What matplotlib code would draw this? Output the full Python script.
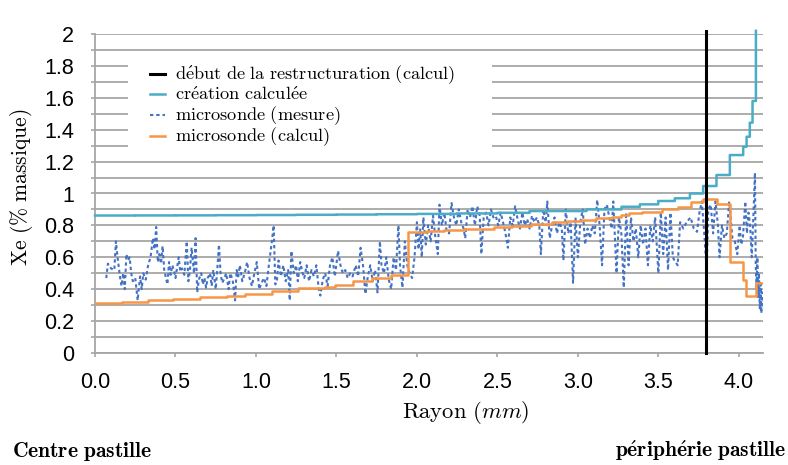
import numpy as np
import matplotlib
matplotlib.use("Agg")
import matplotlib.pyplot as plt
from matplotlib.patches import Rectangle
from matplotlib.ticker import MultipleLocator, FormatStrFormatter

plt.rcParams["mathtext.fontset"] = "cm"

# --------------------------------------------------
# DATA
# --------------------------------------------------
restructuration_x = 3.795

# création calculée (step, value holds until next x)
creation_x = [0.0, 0.25, 0.5, 0.75, 1.0, 1.25, 1.5, 1.75, 2.0, 2.25, 2.5, 2.70, 3.054,
              3.271, 3.385, 3.499, 3.602, 3.696, 3.778, 3.861, 3.944, 4.027, 4.048,
              4.068, 4.085, 4.106]
creation_y = [0.862, 0.8625, 0.863, 0.864, 0.865, 0.8665, 0.868, 0.870, 0.872, 0.875,
              0.879, 0.89, 0.90, 0.917, 0.932, 0.953, 0.97, 1.00, 1.047, 1.116, 1.241,
              1.293, 1.356, 1.444, 1.58, 2.02]

# microsonde (calcul) (step)
calcul_x = [0.0, 0.166, 0.331, 0.487, 0.652, 0.818, 0.932, 1.097, 1.263, 1.428, 1.491,
            1.605, 1.718, 1.842, 1.946, 2.06, 2.17, 2.29, 2.48, 2.59, 2.71, 2.84,
            2.93, 3.02, 3.11, 3.21, 3.27, 3.32, 3.40, 3.52, 3.62, 3.70, 3.78, 3.865,
            3.944, 4.026, 4.047, 4.104, 4.15]
calcul_y = [0.316, 0.322, 0.332, 0.340, 0.353, 0.36, 0.368, 0.39, 0.405, 0.415, 0.425,
            0.45, 0.47, 0.49, 0.757, 0.765, 0.772, 0.780, 0.788, 0.798, 0.81, 0.82,
            0.828, 0.836, 0.844, 0.853, 0.865, 0.876, 0.886, 0.90, 0.917, 0.944, 0.965, 0.932,
            0.573, 0.457, 0.358, 0.44, 0.44]

# microsonde (mesure)
mesure_x = [
    0.07, 0.08, 0.10, 0.12, 0.13, 0.14, 0.155, 0.165, 0.175, 0.185, 0.195, 0.205, 0.215,
    0.225, 0.235, 0.25, 0.265, 0.28, 0.29, 0.30, 0.315, 0.33, 0.345, 0.36, 0.37, 0.38,
    0.39, 0.40, 0.41, 0.42, 0.43, 0.45, 0.46, 0.47, 0.48, 0.49, 0.50, 0.52, 0.53, 0.54,
    0.555, 0.57, 0.58, 0.59, 0.60, 0.615, 0.625, 0.635, 0.645, 0.66, 0.67, 0.68, 0.69,
    0.70, 0.715, 0.725, 0.735, 0.75, 0.76, 0.77, 0.78, 0.79, 0.80, 0.815, 0.83,
    0.84, 0.855, 0.87, 0.88, 0.89, 0.90, 0.915, 0.93, 0.945, 0.96, 0.975, 0.99, 1.005,
    1.02, 1.035, 1.05, 1.065, 1.08, 1.09, 1.10, 1.11, 1.12, 1.13, 1.14, 1.155, 1.17,
    1.185, 1.20, 1.21, 1.22, 1.235, 1.25, 1.26, 1.275, 1.29, 1.30, 1.315, 1.33, 1.345,
    1.36, 1.375, 1.39, 1.40, 1.415, 1.43, 1.445, 1.46, 1.475, 1.49, 1.51, 1.525, 1.54,
    1.555, 1.57, 1.585, 1.60, 1.62, 1.635, 1.65, 1.665,
    1.68, 1.695, 1.71, 1.725, 1.74, 1.755, 1.77, 1.78, 1.795, 1.81, 1.825, 1.84, 1.855,
    1.87, 1.885, 1.895, 1.91, 1.925, 1.94, 1.955, 1.97, 1.985, 2.00, 2.01, 2.02, 2.03,
    2.04, 2.055, 2.07, 2.085, 2.10, 2.115, 2.13, 2.14, 2.155, 2.17, 2.185, 2.20, 2.215,
    2.23, 2.245, 2.26, 2.275, 2.29, 2.30, 2.315, 2.33, 2.345, 2.36, 2.375, 2.39, 2.40,
    2.415, 2.43, 2.445, 2.46, 2.475,
    2.49, 2.505, 2.52, 2.535, 2.55, 2.565, 2.58, 2.595, 2.61, 2.625, 2.64, 2.655, 2.67,
    2.685, 2.70, 2.715, 2.73, 2.745, 2.76, 2.77, 2.785, 2.80, 2.81, 2.825, 2.84, 2.855,
    2.87, 2.885, 2.90, 2.91, 2.925, 2.94, 2.955, 2.97, 2.985, 3.00, 3.015, 3.03, 3.045,
    3.06, 3.075, 3.09, 3.105, 3.12, 3.135, 3.15, 3.165, 3.18, 3.195, 3.21, 3.22, 3.24,
    3.255, 3.27, 3.285, 3.30, 3.315,
    3.33, 3.345, 3.36, 3.375, 3.39, 3.405, 3.42, 3.435, 3.45, 3.465, 3.48, 3.50, 3.515,
    3.53, 3.545, 3.56, 3.575, 3.59, 3.60, 3.62, 3.635, 3.655, 3.675, 3.70, 3.72, 3.74,
    3.755, 3.77, 3.785, 3.80, 3.81, 3.825, 3.84, 3.855, 3.87, 3.88, 3.895, 3.91, 3.925,
    3.94, 3.96, 3.975, 3.99, 4.005, 4.015, 4.025, 4.04, 4.05, 4.06, 4.07, 4.08, 4.09,
    4.10, 4.105, 4.11, 4.115, 4.12, 4.125, 4.13, 4.135, 4.14, 4.145, 4.15,
]
mesure_y = [
    0.47, 0.56, 0.53, 0.52, 0.70, 0.60, 0.48, 0.42, 0.50, 0.40, 0.62, 0.58, 0.60,
    0.50, 0.45, 0.47, 0.33, 0.48, 0.40, 0.50, 0.46, 0.55, 0.60, 0.72, 0.65, 0.79,
    0.57, 0.62, 0.56, 0.67, 0.52, 0.43, 0.57, 0.49, 0.55, 0.52, 0.47, 0.60, 0.51, 0.53,
    0.49, 0.70, 0.45, 0.52, 0.66, 0.50, 0.72, 0.38, 0.46, 0.50, 0.43, 0.47, 0.41,
    0.47, 0.50, 0.42, 0.52, 0.40, 0.53, 0.68, 0.50, 0.44, 0.46, 0.50, 0.40,
    0.50, 0.46, 0.33, 0.52, 0.48, 0.55, 0.45, 0.50, 0.57, 0.47, 0.42, 0.50, 0.57,
    0.40, 0.44, 0.47, 0.42, 0.55, 0.63, 0.71, 0.80, 0.43, 0.45, 0.58, 0.48, 0.55,
    0.45, 0.52, 0.33, 0.64, 0.50, 0.55, 0.45, 0.57, 0.50, 0.47, 0.55, 0.45, 0.52,
    0.48, 0.55, 0.40, 0.36, 0.46, 0.50, 0.42, 0.55, 0.60, 0.48, 0.64, 0.55, 0.50,
    0.52, 0.47, 0.50, 0.48, 0.55, 0.48, 0.66, 0.55,
    0.37, 0.48, 0.55, 0.45, 0.52, 0.38, 0.70, 0.55, 0.50, 0.60, 0.46, 0.40, 0.60,
    0.52, 0.80, 0.55, 0.41, 0.70, 0.55, 0.50, 0.47, 0.60, 0.82, 0.65, 0.78, 0.60,
    0.85, 0.68, 0.80, 0.70, 0.86, 0.72, 0.62, 0.93, 0.80, 0.88, 0.76, 0.75, 0.94,
    0.85, 0.80, 0.90, 0.82, 0.78, 0.72, 0.90, 0.85, 0.92, 0.80, 0.92, 0.86, 0.62,
    0.85, 0.88, 0.80, 0.90, 0.85,
    0.86, 0.80, 0.88, 0.82, 0.75, 0.66, 0.85, 0.80, 0.92, 0.84, 0.78, 0.88, 0.80,
    0.84, 0.78, 0.86, 0.82, 0.85, 0.80, 0.62, 0.90, 0.82, 0.95, 0.72, 0.80, 0.85,
    0.75, 0.82, 0.78, 0.58, 0.90, 0.75, 0.82, 0.44, 0.85, 0.60, 0.82, 0.90, 0.68,
    0.78, 0.72, 0.80, 0.75, 0.96, 0.80, 0.55, 0.90, 0.93, 0.85, 0.78, 0.95, 0.50,
    0.85, 0.75, 0.41, 0.88, 0.55,
    0.85, 0.70, 0.78, 0.60, 0.80, 0.68, 0.78, 0.55, 0.80, 0.70, 0.85, 0.50, 0.88,
    0.62, 0.85, 0.52, 0.88, 0.60, 0.58, 0.55, 0.82, 0.78, 0.82, 0.85, 0.78, 0.76,
    0.88, 0.95, 0.75, 0.52, 0.90, 0.93, 0.75, 0.95, 0.80, 0.60, 0.80, 0.72, 0.75,
    0.95, 0.72, 0.70, 0.62, 0.80, 0.68, 0.72, 0.95, 0.75, 0.88, 0.80, 0.60, 0.85,
    1.13, 0.55, 0.40, 0.60, 0.35, 0.50, 0.28, 0.45, 0.25, 0.38, 0.30,
]

legend_labels = ["début de la restructuration (calcul)", "création calculée",
                 "microsonde (mesure)", "microsonde (calcul)"]

# --------------------------------------------------
# FIGURE
# --------------------------------------------------
W, H = 788, 465
fig = plt.figure(figsize=(W / 100, H / 100), dpi=100)
ax = fig.add_axes([95 / W, 112 / H, 668 / W, 319 / H])

grid_c = "#a6a6a6"
c_black = "black"
c_cyan = "#4bacc6"
c_blue = "#4472c4"
c_orange = "#f79646"

ax.set_xlim(0, 4.15)
ax.set_ylim(0, 2)
ax.set_axisbelow(True)

ax.yaxis.set_major_locator(MultipleLocator(0.2))
ax.yaxis.set_minor_locator(MultipleLocator(0.1))
ax.yaxis.set_major_formatter(FormatStrFormatter("%g"))
ax.xaxis.set_major_locator(MultipleLocator(0.5))
ax.xaxis.set_major_formatter(FormatStrFormatter("%.1f"))
ax.grid(True, axis="y", which="both", color=grid_c, lw=1.3)

for s in ["top", "right"]:
    ax.spines[s].set_visible(False)
for s in ["left", "bottom"]:
    ax.spines[s].set_color(grid_c)
    ax.spines[s].set_linewidth(1.3)

ax.tick_params(axis="both", which="both", direction="out", length=3,
               color=grid_c, width=1.2, labelsize=15.5,
               labelfontfamily="Liberation Sans")
ax.tick_params(axis="x", pad=11)
ax.tick_params(axis="y", pad=12)

# white box behind the legend (hides gridlines)
ax.add_patch(Rectangle((0.049, 0.627), 0.545, 0.301, transform=ax.transAxes,
                       facecolor="white", edgecolor="none", zorder=1))

ax.plot(mesure_x, mesure_y, color=c_blue, lw=1.5, ls=(0, (1.6, 1.4)), zorder=2)
ax.plot(calcul_x, calcul_y, color=c_orange, lw=1.8, drawstyle="steps-post", zorder=3)
ax.plot(creation_x, creation_y, color=c_cyan, lw=1.8, drawstyle="steps-post",
        zorder=3, clip_on=False, snap=False)
ax.plot([restructuration_x, restructuration_x], [0, 2.02], color=c_black,
        lw=2.2, zorder=4, clip_on=False)

# --------------------------------------------------
# LEGEND (drawn by hand so row pitch matches)
# --------------------------------------------------
def tex(s):
    s = s.replace("é", r"\acute{e}").replace(" ", r"\ ")
    return r"$\mathrm{" + s + "}$"

def px_x(p):
    return (p - 95) / 668

def px_y(p):
    return (353 - p) / 319

leg_styles = [dict(color=c_black, lw=2.2), dict(color=c_cyan, lw=1.8),
              dict(color=c_blue, lw=1.5, ls=(0, (1.6, 1.4))), dict(color=c_orange, lw=1.8)]
leg_rows = [74, 94.5, 115, 136]
for lab, st, ry in zip(legend_labels, leg_styles, leg_rows):
    ax.plot([px_x(150), px_x(165)], [px_y(ry), px_y(ry)], transform=ax.transAxes,
            zorder=5, **st)
    ax.text(px_x(175), px_y(ry + 5), tex(lab), transform=ax.transAxes,
            ha="left", va="baseline", fontsize=13.2, zorder=5)

# axis labels and captions
fig.text(22 / W, 1 - 187 / H, r"$\mathrm{Xe\ (\%\ massique)}$", rotation=90,
         ha="center", va="center", fontsize=15.5)
fig.text(466 / W, 1 - 412 / H, r"$\mathrm{Rayon}\ (mm)$", ha="center",
         va="center", fontsize=16.3)
fig.text(12 / W, 1 - 451 / H, r"$\mathbf{Centre\ pastille}$", ha="left",
         va="center", fontsize=15.5)
fig.text(786 / W, 1 - 451 / H, r"$\mathbf{p\acute{e}riph\acute{e}rie\ pastille}$",
         ha="right", va="center", fontsize=15.5)

fig.savefig("out.png", dpi=100)
